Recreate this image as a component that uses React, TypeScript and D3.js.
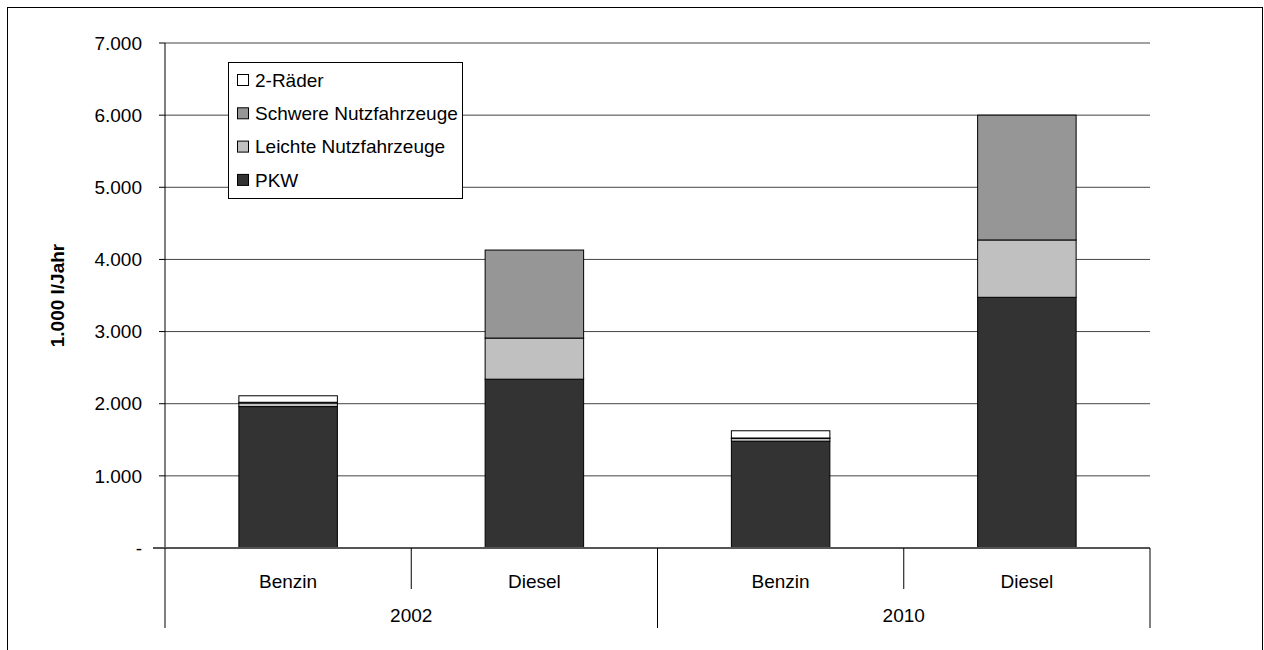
import * as d3 from "d3";

type Row = { key: string; fuel: string; year: string; [s: string]: number | string };

const years = ["2002", "2010"];
const fuels = ["Benzin", "Diesel"];
const seriesNames = ["PKW", "Leichte Nutzfahrzeuge", "Schwere Nutzfahrzeuge", "2-Räder"];
const seriesColors = ["#333333", "#c0c0c0", "#969696", "#ffffff"];

// order: 2002 Benzin, 2002 Diesel, 2010 Benzin, 2010 Diesel
const pkw = [1960, 2340, 1480, 3475];
const leichte = [50, 570, 40, 795];
const schwere = [10, 1220, 5, 1730];
const zweiRaeder = [90, 0, 100, 0];

const yTicks = [0, 1000, 2000, 3000, 4000, 5000, 6000, 7000];
const yTickLabels = ["-", "1.000", "2.000", "3.000", "4.000", "5.000", "6.000", "7.000"];

const legendOrder = ["2-Räder", "Schwere Nutzfahrzeuge", "Leichte Nutzfahrzeuge", "PKW"];

const rows: Row[] = [];
years.forEach((y, yi) =>
  fuels.forEach((f, fi) => {
    const i = yi * fuels.length + fi;
    rows.push({
      key: `${y}-${f}`,
      fuel: f,
      year: y,
      [seriesNames[0]]: pkw[i],
      [seriesNames[1]]: leichte[i],
      [seriesNames[2]]: schwere[i],
      [seriesNames[3]]: zweiRaeder[i],
    });
  })
);

export default function App() {
  const width = 1264;
  const height = 650;
  const margin = { top: 43, right: 114, bottom: 102, left: 165 };
  const font = "'Liberation Sans', Arial, sans-serif";
  const fs = 19;

  const x = d3
    .scaleBand<string>()
    .domain(rows.map((r) => r.key))
    .range([margin.left, width - margin.right])
    .padding(0);
  const y = d3
    .scaleLinear()
    .domain([0, 7000])
    .range([height - margin.bottom, margin.top]);
  const color = d3.scaleOrdinal<string, string>().domain(seriesNames).range(seriesColors);

  const stacked = d3.stack<Row>().keys(seriesNames).value((d, k) => d[k] as number)(rows);
  const barW = x.bandwidth() * 0.4;
  const y0 = y(0);
  const groupW = x.bandwidth() * fuels.length;

  return (
    <svg
      width={width}
      height={height}
      style={{ position: "absolute", left: 0, top: 0, fontFamily: font }}
    >
      <rect x={7.5} y={7.5} width={1255} height={660} fill="#fff" stroke="#000" strokeWidth={1} />

      {yTicks.slice(1).map((t) => (
        <line key={t} x1={margin.left} x2={width - margin.right} y1={y(t)} y2={y(t)} stroke="#444" strokeWidth={1} />
      ))}

      {stacked.map((s, si) =>
        s.map((d, i) => (
          <rect
            key={`${si}-${i}`}
            x={(x(rows[i].key) ?? 0) + (x.bandwidth() - barW) / 2}
            y={y(d[1])}
            width={barW}
            height={Math.max(0, y(d[0]) - y(d[1]))}
            fill={color(s.key)}
            stroke="#000"
            strokeWidth={1}
          />
        ))
      )}

      <line x1={margin.left} x2={margin.left} y1={margin.top} y2={y0} stroke="#000" />
      {yTicks.map((t, i) => (
        <g key={t}>
          <line x1={margin.left - 6} x2={margin.left} y1={y(t)} y2={y(t)} stroke="#000" />
          <text x={142} y={y(t)} dy="0.35em" textAnchor="end" fontSize={fs} fill="#000">
            {yTickLabels[i]}
          </text>
        </g>
      ))}
      <line x1={margin.left - 12} x2={width - margin.right} y1={y0} y2={y0} stroke="#555" strokeWidth={2} />

      {rows.map((r, i) => (
        <g key={r.key}>
          <text x={(x(r.key) ?? 0) + x.bandwidth() / 2} y={y0 + 40} textAnchor="middle" fontSize={fs}>
            {r.fuel}
          </text>
          <line
            x1={x(r.key) ?? 0}
            x2={x(r.key) ?? 0}
            y1={y0}
            y2={y0 + (i % fuels.length === 0 ? 80 : 41)}
            stroke="#000"
          />
        </g>
      ))}
      <line x1={width - margin.right} x2={width - margin.right} y1={y0} y2={y0 + 80} stroke="#000" />
      {years.map((yr, yi) => (
        <text key={yr} x={margin.left + groupW * yi + groupW / 2} y={y0 + 74} textAnchor="middle" fontSize={fs}>
          {yr}
        </text>
      ))}

      <text
        transform={`translate(64, ${(margin.top + y0) / 2}) rotate(-90)`}
        textAnchor="middle"
        fontSize={fs}
        fontWeight="bold"
      >
        1.000 l/Jahr
      </text>

      <rect x={228.5} y={62.5} width={234} height={136} fill="#fff" stroke="#000" />
      {legendOrder.map((name, i) => (
        <g key={name} transform={`translate(237, ${80 + i * 33.3})`}>
          <rect x={0.5} y={-5.5} width={11} height={11} fill={color(name)} stroke="#000" />
          <text x={18} y={0} dy="0.35em" fontSize={fs}>
            {name}
          </text>
        </g>
      ))}
    </svg>
  );
}
